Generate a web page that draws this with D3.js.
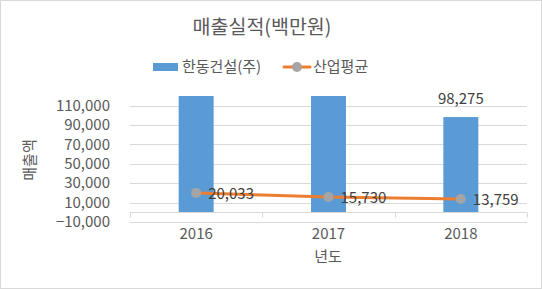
<!DOCTYPE html>
<html>
<head>
<meta charset="utf-8">
<script src="https://cdn.jsdelivr.net/npm/d3@7"></script>
<style>
  body { margin: 0; background: #fff; }
  svg text { font-family: "Noto Sans CJK KR", "Noto Sans", sans-serif; fill: #595959; }
</style>
</head>
<body>
<script>
var years = ["2016", "2017", "2018"];
var companySales = [135000, 128000, 98275];   // 한동건설(주); first two run past the axis top
var industryAvg = [20033, 15730, 13759];       // 산업평균
var yTicks = [-10000, 10000, 30000, 50000, 70000, 90000, 110000];

function init(){
    var w = 542;
    var h = 289;
    var left = 130, right = 527, top = 96, bottom = 222;
    var fmt = d3.format(",");
    var fs = "15px";

    var svg = d3.select("body")
                .append("svg")
                .attr("width", w)
                .attr("height", h);

    // chart border
    svg.append("rect")
       .attr("x", 0.5).attr("y", 0.5)
       .attr("width", w - 1).attr("height", h - 1)
       .attr("fill", "#fff")
       .attr("stroke", "#d9d9d9");

    var xScale = d3.scaleBand()
                   .domain(years)
                   .range([left, right]);

    var yScale = d3.scaleLinear()
                   .domain([-10000, 120000])
                   .range([bottom, top]);

    // gridlines
    svg.append("g")
       .selectAll("line")
       .data(yTicks)
       .enter()
       .append("line")
       .attr("x1", left).attr("x2", right)
       .attr("y1", function(d) { return Math.round(yScale(d)) + 0.5; })
       .attr("y2", function(d) { return Math.round(yScale(d)) + 0.5; })
       .attr("stroke", "#d9d9d9");

    // y tick labels
    svg.append("g")
       .selectAll("text")
       .data(yTicks)
       .enter()
       .append("text")
       .attr("x", 110)
       .attr("y", function(d) { return yScale(d); })
       .attr("dy", "0.35em")
       .attr("text-anchor", "end")
       .style("font-size", fs)
       .text(function(d) { return fmt(d); });

    // clip for bars that run past the top
    svg.append("clipPath").attr("id", "plot")
       .append("rect")
       .attr("x", left).attr("y", top)
       .attr("width", right - left).attr("height", bottom - top);

    var barW = 35;
    svg.append("g")
       .attr("clip-path", "url(#plot)")
       .selectAll("rect")
       .data(companySales)
       .enter()
       .append("rect")
       .attr("x", function(d, i) { return xScale(years[i]) + xScale.bandwidth() / 2 - barW / 2; })
       .attr("y", function(d) { return yScale(d); })
       .attr("width", barW)
       .attr("height", function(d) { return yScale(0) - yScale(d); })
       .attr("fill", "#5b9bd5");

    // bar labels (only those inside the axis range)
    svg.append("g")
       .selectAll("text")
       .data(companySales.map(function(d, i) { return { v: d, y: years[i] }; })
                         .filter(function(d) { return d.v <= 120000; }))
       .enter()
       .append("text")
       .attr("x", function(d) { return xScale(d.y) + xScale.bandwidth() / 2; })
       .attr("y", function(d) { return yScale(d.v) - 13; })
       .attr("text-anchor", "middle")
       .style("font-size", fs)
       .style("fill", "#404040")
       .text(function(d) { return fmt(d.v); });

    // category axis at zero
    var zeroY = Math.round(yScale(0)) + 0.5;
    svg.append("line")
       .attr("x1", left).attr("x2", right)
       .attr("y1", zeroY).attr("y2", zeroY)
       .attr("stroke", "#d9d9d9");
    var tickXs = years.map(function(d) { return xScale(d); }).concat([right]);
    svg.append("g")
       .selectAll("line")
       .data(tickXs)
       .enter()
       .append("line")
       .attr("x1", function(d) { return Math.round(d) + 0.5; })
       .attr("x2", function(d) { return Math.round(d) + 0.5; })
       .attr("y1", zeroY).attr("y2", zeroY + 5)
       .attr("stroke", "#d9d9d9");

    // year labels
    svg.append("g")
       .selectAll("text")
       .data(years)
       .enter()
       .append("text")
       .attr("x", function(d) { return xScale(d) + xScale.bandwidth() / 2; })
       .attr("y", 234)
       .attr("dy", "0.35em")
       .attr("text-anchor", "middle")
       .style("font-size", fs)
       .text(function(d) { return d; });

    // industry average line
    var line = d3.line()
                 .x(function(d, i) { return xScale(years[i]) + xScale.bandwidth() / 2; })
                 .y(function(d) { return yScale(d); });
    svg.append("path")
       .datum(industryAvg)
       .attr("d", line)
       .attr("fill", "none")
       .attr("stroke", "#ed7d31")
       .attr("stroke-width", 3)
       .attr("stroke-linecap", "round");

    svg.append("g")
       .selectAll("circle")
       .data(industryAvg)
       .enter()
       .append("circle")
       .attr("cx", function(d, i) { return xScale(years[i]) + xScale.bandwidth() / 2; })
       .attr("cy", function(d) { return yScale(d); })
       .attr("r", 5)
       .attr("fill", "#a5a5a5");

    svg.append("g")
       .selectAll("text")
       .data(industryAvg)
       .enter()
       .append("text")
       .attr("x", function(d, i) { return xScale(years[i]) + xScale.bandwidth() / 2 + 12; })
       .attr("y", function(d) { return yScale(d); })
       .attr("dy", "0.4em")
       .style("font-size", fs)
       .style("fill", "#404040")
       .text(function(d) { return fmt(d); });

    // titles
    svg.append("text")
       .attr("x", 262).attr("y", 27)
       .attr("dy", "0.35em")
       .attr("text-anchor", "middle")
       .style("font-size", "19.5px")
       .text("매출실적(백만원)");

    svg.append("text")
       .attr("x", 328).attr("y", 257)
       .attr("dy", "0.35em")
       .attr("text-anchor", "middle")
       .style("font-size", fs)
       .text("년도");

    svg.append("text")
       .attr("transform", "translate(30,160) rotate(-90)")
       .attr("dy", "0.35em")
       .attr("text-anchor", "middle")
       .style("font-size", fs)
       .text("매출액");

    // legend
    var lg = svg.append("g");
    lg.append("rect")
      .attr("x", 153).attr("y", 63)
      .attr("width", 25).attr("height", 8)
      .attr("fill", "#5b9bd5");
    lg.append("text")
      .attr("x", 182).attr("y", 67)
      .attr("dy", "0.35em")
      .style("font-size", fs)
      .text("한동건설(주)");
    lg.append("line")
      .attr("x1", 284).attr("x2", 310)
      .attr("y1", 67).attr("y2", 67)
      .attr("stroke", "#ed7d31")
      .attr("stroke-width", 3)
      .attr("stroke-linecap", "round");
    lg.append("circle")
      .attr("cx", 297).attr("cy", 67).attr("r", 5)
      .attr("fill", "#a5a5a5");
    lg.append("text")
      .attr("x", 313).attr("y", 67)
      .attr("dy", "0.35em")
      .style("font-size", fs)
      .text("산업평균");
}
window.onload = init;
</script>
</body>
</html>
